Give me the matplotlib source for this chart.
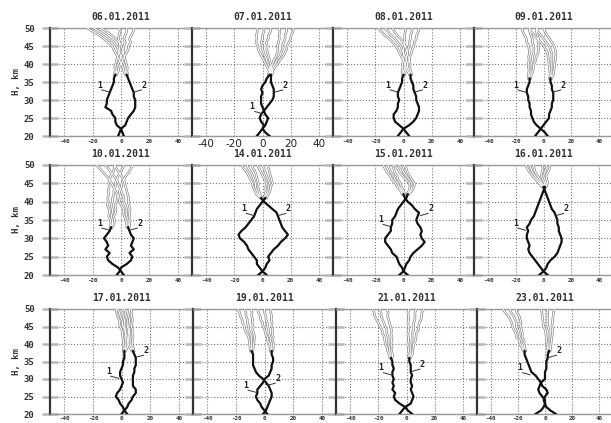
import matplotlib
matplotlib.use("Agg")
import matplotlib.pyplot as plt

plt.rcParams['axes.unicode_minus'] = False

heights = list(range(20, 51))

titles = ["06.01.2011", "07.01.2011", "08.01.2011", "09.01.2011",
          "10.01.2011", "14.01.2011", "15.01.2011", "16.01.2011",
          "17.01.2011", "19.01.2011", "21.01.2011", "23.01.2011"]

# profile 1 and profile 2 for each date (x value at heights 20..50 km)
p1_0601 = [2, 1, 0, -3, -4, -4, -6, -7, -11, -10, -10, -9, -8, -7, -6, -5, -5, -4, -3, -3, -2, -1, 0, 1, 2, 2, 3, 2, 3, 4, 4]
p2_0601 = [-2, -1, 0, 3, 4, 5, 7, 9, 10, 10, 10, 9, 9, 8, 7, 6, 5, 4, 3, 3, 2, 1, 0, -1, -2, -3, -5, -8, -11, -15, -19]
p1_0701 = [-4, -2, 0, 1, -1, -2, -1, 1, 0, -1, -1, -1, 0, -1, 0, 2, 3, 5, 6, 7, 9, 10, 12, 13, 14, 14, 15, 16, 16, 17, 17]
p2_0701 = [5, 2, 0, 2, 3, 4, 2, 1, 3, 5, 7, 8, 8, 8, 7, 6, 6, 6, 6, 5, 4, 3, 2, 1, 0, 0, -1, 0, 0, 1, 1]
p1_0801 = [4, 2, 0, -3, -6, -7, -7, -5, -4, -4, -3, -4, -4, -3, -2, -1, -1, 0, 0, 1, 1, 2, 2, 3, 3, 4, 4, 5, 5, 6, 6]
p2_0801 = [-4, -2, 0, 4, 7, 9, 10, 11, 11, 10, 9, 9, 8, 7, 7, 6, 5, 5, 4, 3, 3, 2, 1, 0, -1, -2, -4, -6, -9, -11, -13]
p1_0901 = [3, 1, -2, -5, -7, -8, -9, -9, -10, -10, -11, -11, -12, -12, -11, -10, -10, -10, -9, -9, -9, -8, -8, -7, -7, -7, -8, -8, -9, -10, -10]
p2_0901 = [-6, -4, -2, 0, 2, 4, 4, 5, 6, 6, 7, 7, 7, 6, 6, 5, 5, 6, 6, 6, 6, 6, 6, 6, 5, 4, 2, 0, -2, -4, -5]
p1_1001 = [2, 0, -2, -6, -9, -10, -8, -11, -9, -10, -12, -10, -8, -7, -6, -6, -7, -6, -6, -7, -6, -6, -5, -5, -4, -4, -3, -2, 0, 1, 2]
p2_1001 = [-3, -1, 0, 4, 7, 8, 6, 9, 7, 8, 9, 7, 6, 5, 5, 5, 4, 4, 4, 3, 2, 2, 1, 0, -1, -2, -3, -5, -7, -9, -11]
p1_1401 = [3, 0, -2, -4, -4, -6, -8, -10, -11, -13, -16, -17, -15, -12, -10, -8, -6, -5, -4, -2, 0, 2, 3, 4, 4, 5, 4, 3, 2, 1, 0]
p2_1401 = [-3, 0, 2, 3, 5, 4, 6, 8, 11, 13, 16, 18, 16, 14, 13, 12, 11, 10, 7, 4, 1, -1, -3, -4, -5, -5, -6, -7, -8, -10, -11]
p1_1501 = [-3, 0, -1, -3, -4, -5, -8, -9, -11, -13, -13, -11, -9, -9, -8, -8, -6, -5, -4, -2, 0, 2, 3, 5, 6, 6, 4, 2, 0, -1, -3]
p2_1501 = [3, 0, 1, 2, 4, 5, 7, 10, 13, 15, 13, 12, 13, 12, 10, 9, 10, 11, 8, 6, 3, 1, 0, -1, -3, -4, -6, -7, -9, -10, -11]
p1_1601 = [3, 0, -2, -4, -6, -8, -10, -11, -10, -11, -12, -12, -11, -12, -10, -9, -7, -6, -5, -4, -3, -2, -1, 0, 1, 2, 1, 0, 1, 2, 2]
p2_1601 = [-3, 0, 2, 3, 5, 8, 10, 11, 12, 13, 13, 12, 11, 11, 10, 10, 9, 8, 6, 5, 4, 3, 2, 1, 0, -2, -4, -6, -8, -9, -10]
p1_1701 = [4, 2, 1, -1, -2, -4, -3, -1, 0, 1, 0, -1, -1, 0, 1, 1, 2, 2, 2, 3, 3, 3, 3, 3, 3, 2, 2, 2, 1, 1, 1]
p2_1701 = [0, 2, 4, 5, 7, 8, 10, 10, 8, 8, 8, 8, 9, 9, 10, 10, 10, 9, 8, 7, 6, 6, 6, 5, 5, 4, 4, 4, 3, 3, 2]
p1_1901 = [2, 0, -2, -3, -5, -6, -5, -5, -3, -1, 0, 3, 4, 5, 5, 6, 6, 5, 5, 5, 5, 4, 4, 3, 3, 2, 2, 1, 1, 0, 0]
p2_1901 = [-1, 1, 2, 3, 4, 5, 5, 4, 3, 1, -1, -4, -6, -7, -8, -8, -8, -8, -9, -9, -9, -9, -9, -10, -11, -11, -12, -12, -13, -13, -14]
p1_2101 = [4, 1, -1, -5, -8, -9, -8, -10, -9, -10, -9, -10, -10, -9, -10, -10, -11, -11, -12, -12, -13, -13, -13, -14, -14, -15, -16, -17, -18, -18, -19]
p2_2101 = [-5, -3, -1, 3, 4, 5, 4, 3, 4, 3, 3, 4, 3, 3, 3, 2, 2, 3, 3, 3, 3, 4, 4, 4, 5, 5, 5, 6, 6, 6, 7]
p1_2301 = [8, 4, 1, 0, -1, 0, 2, 1, -2, -3, -5, -7, -10, -11, -12, -13, -14, -15, -15, -16, -17, -17, -19, -19, -20, -21, -21, -22, -23, -25, -26]
p2_2301 = [-7, -3, -1, 0, 0, -2, -4, -5, -4, -3, 0, 0, 0, 1, 1, 1, 2, 2, 3, 3, 3, 3, 3, 3, 3, 2, 2, 2, 2, 2, 2]

profiles1 = [p1_0601, p1_0701, p1_0801, p1_0901, p1_1001, p1_1401,
             p1_1501, p1_1601, p1_1701, p1_1901, p1_2101, p1_2301]
profiles2 = [p2_0601, p2_0701, p2_0801, p2_0901, p2_1001, p2_1401,
             p2_1501, p2_1601, p2_1701, p2_1901, p2_2101, p2_2301]

# height (km) above which the profiles are shown as grey uncertainty lines
gray_from = [37, 37, 37, 36, 33, 41, 42, 44, 38, 38, 36, 38]
# heights of the curve labels "1" and "2"
label1_h = [33, 27, 33, 33, 33, 37, 34, 33, 31, 27, 32, 32]
label2_h = [33, 33, 33, 33, 33, 37, 37, 37, 37, 29, 33, 37]

x_ticks = [-40, -20, 0, 20, 40]
y_ticks = [20, 25, 30, 35, 40, 45, 50]

W, H = 611, 423
fig = plt.figure(figsize=(W / 100, H / 100), dpi=100)
fig.patch.set_facecolor('white')

row_top = [28, 165, 309]
row_bot = [136, 275, 414]
col_lefts = [[50, 192, 333, 474], [50, 192, 333, 474], [50, 193, 336, 477]]
col_ws = [[142, 141, 141, 139], [142, 141, 141, 139], [143, 143, 141, 136]]

mono = 'DejaVu Sans Mono'

def hollow(ax, xs, ys):
    ax.plot(xs, ys, color='#8c8c8c', lw=1.8, solid_joinstyle='round', zorder=3)
    ax.plot(xs, ys, color='white', lw=0.75, solid_joinstyle='round', zorder=4)

for i in range(12):
    r, c = divmod(i, 4)
    t, b = row_top[r], row_bot[r]
    l, w = col_lefts[r][c], col_ws[r][c]
    ax = fig.add_axes([l / W, 1 - b / H, w / W, (b - t) / H])
    ax.set_xlim(-50, 50)
    ax.set_ylim(20, 50)
    ax.set_xticks(x_ticks)
    ax.set_yticks(y_ticks)
    ax.grid(True, linestyle=':', color='#777777', lw=0.8)
    ax.set_axisbelow(True)
    for s in ['top', 'bottom', 'right']:
        ax.spines[s].set_color('#9a9a9a')
        ax.spines[s].set_linewidth(1.0)
    ax.spines['left'].set_color('#333333')
    ax.spines['left'].set_linewidth(1.6)
    ax.tick_params(axis='y', direction='inout', length=12, width=1.8,
                   color='#b8b8b8', pad=5)
    ax.tick_params(axis='x', length=0, pad=2.5 if r < 2 else 1.5)

    if i == 1:
        ax.set_xticklabels([str(v) for v in x_ticks], fontsize=7.5,
                           family='DejaVu Sans', color='#222222')
    else:
        ax.set_xticklabels([str(v) for v in x_ticks], fontsize=4.2,
                           family=mono, fontweight='bold', color='#333333')
    if c == 0:
        ax.set_yticklabels([str(v) for v in y_ticks], fontsize=6.5,
                           family=mono, fontweight='bold', color='#333333')
        ax.set_ylabel("H, km", fontsize=6.5, family=mono, fontweight='bold',
                      color='#333333', labelpad=2)
    else:
        ax.set_yticklabels([])

    ax.set_title(titles[i], fontsize=7, family=mono, fontweight='bold',
                 color='#333333', pad=6)

    g = gray_from[i]
    for prof in (profiles1[i], profiles2[i]):
        lo_h = [h for h in heights if h <= g]
        lo_x = [prof[heights.index(h)] for h in lo_h]
        hi_h = [h for h in heights if h >= g]
        hi_x = [prof[heights.index(h)] for h in hi_h]
        for k in (-1, 0, 1):
            xs = [x + k * (0.8 + 0.32 * (h - g)) for x, h in zip(hi_x, hi_h)]
            hollow(ax, xs, hi_h)
        ax.plot(lo_x, lo_h, color='#111111', lw=1.6, zorder=5)

    # curve labels
    h1 = label1_h[i]
    x1 = profiles1[i][heights.index(h1)]
    ax.plot([x1 - 6.5, x1 - 1], [h1 - 0.2, h1 - 0.8], color='#333333', lw=0.7, zorder=6)
    ax.text(x1 - 6.5, h1 - 0.1, "1", fontsize=6, family=mono, fontweight='bold',
            ha='right', va='bottom', color='#222222', zorder=6)
    h2 = label2_h[i]
    x2 = profiles2[i][heights.index(h2)]
    ax.plot([x2 + 1, x2 + 6.5], [h2 - 0.8, h2 - 0.2], color='#333333', lw=0.7, zorder=6)
    ax.text(x2 + 6.5, h2 - 0.1, "2", fontsize=6, family=mono, fontweight='bold',
            ha='left', va='bottom', color='#222222', zorder=6)

fig.savefig("out.png", dpi=100, facecolor='white')
